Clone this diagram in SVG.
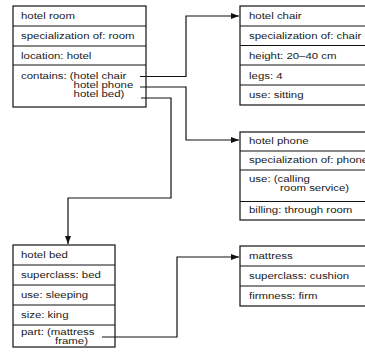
<svg xmlns="http://www.w3.org/2000/svg" width="365" height="356" viewBox="0 0 365 356">
<style>
.box{fill:#fff;stroke:#111;stroke-width:1.2}
.dv{stroke:#111;stroke-width:1.1;fill:none}
.t{font-family:"Liberation Sans",Arial,Helvetica,sans-serif;font-size:9px;fill:#1a1a1a}
.c{fill:none;stroke:#111;stroke-width:1.2}
</style>
<defs>
<marker id="ah" markerUnits="userSpaceOnUse" markerWidth="8" markerHeight="6" refX="8" refY="3" orient="auto">
<path d="M0,0 L8,3 L0,6 z" fill="#111"/>
</marker>
</defs>
<rect width="365" height="356" fill="#fff"/>

<g id="hotel-room">
<rect class="box" x="13" y="6" width="133" height="101"/>
<path class="dv" d="M13,26H146M13,46H146M13,65H146"/>
<text class="t" transform="translate(21 19) scale(1.27 1)">hotel room</text>
<text class="t" transform="translate(21 39) scale(1.27 1)">specialization of: room</text>
<text class="t" transform="translate(21 59) scale(1.27 1)">location: hotel</text>
<text class="t" transform="translate(21 78.5) scale(1.27 1)">contains: (hotel chair</text>
<text class="t" transform="translate(73.6 87.5) scale(1.27 1)">hotel phone</text>
<text class="t" transform="translate(73.6 96.5) scale(1.27 1)">hotel bed)</text>
</g>

<g id="hotel-chair">
<rect class="box" x="240" y="6" width="135" height="99"/>
<path class="dv" d="M240,26H375M240,45.5H375M240,65H375M240,85H375"/>
<text class="t" transform="translate(249 19) scale(1.27 1)">hotel chair</text>
<text class="t" transform="translate(249 39) scale(1.27 1)">specialization of: chair</text>
<text class="t" transform="translate(249 58.5) scale(1.27 1)">height: 20–40 cm</text>
<text class="t" transform="translate(249 78.5) scale(1.27 1)">legs: 4</text>
<text class="t" transform="translate(249 98) scale(1.27 1)">use: sitting</text>
</g>

<g id="hotel-phone">
<rect class="box" x="240" y="132" width="135" height="88"/>
<path class="dv" d="M240,151H375M240,170H375M240,201.5H375"/>
<text class="t" transform="translate(249 144) scale(1.27 1)">hotel phone</text>
<text class="t" transform="translate(249 163) scale(1.27 1)">specialization of: phone</text>
<text class="t" transform="translate(249 181.5) scale(1.27 1)">use: (calling</text>
<text class="t" transform="translate(280 191) scale(1.27 1)">room service)</text>
<text class="t" transform="translate(249 213) scale(1.27 1)">billing: through room</text>
</g>

<g id="hotel-bed">
<rect class="box" x="13" y="245" width="102" height="102"/>
<path class="dv" d="M13,265H115M13,285H115M13,305H115M13,325H115"/>
<text class="t" transform="translate(21 258) scale(1.27 1)">hotel bed</text>
<text class="t" transform="translate(21 278) scale(1.27 1)">superclass: bed</text>
<text class="t" transform="translate(21 298) scale(1.27 1)">use: sleeping</text>
<text class="t" transform="translate(21 318) scale(1.27 1)">size: king</text>
<text class="t" transform="translate(21 335) scale(1.27 1)">part: (mattress</text>
<text class="t" transform="translate(55 344) scale(1.27 1)">frame)</text>
</g>

<g id="mattress">
<rect class="box" x="240" y="246" width="135" height="60"/>
<path class="dv" d="M240,266H375M240,286H375"/>
<text class="t" transform="translate(249 259) scale(1.27 1)">mattress</text>
<text class="t" transform="translate(249 279) scale(1.27 1)">superclass: cushion</text>
<text class="t" transform="translate(249 299) scale(1.27 1)">firmness: firm</text>
</g>

<g id="connectors">
<path class="c" d="M140,76.5H186V16H239" marker-end="url(#ah)"/>
<path class="c" d="M140,87H186V140H239" marker-end="url(#ah)"/>
<path class="c" d="M141,98H171V198H68V244" marker-end="url(#ah)"/>
<path class="c" d="M102,337H177V257H239" marker-end="url(#ah)"/>
</g>
</svg>
